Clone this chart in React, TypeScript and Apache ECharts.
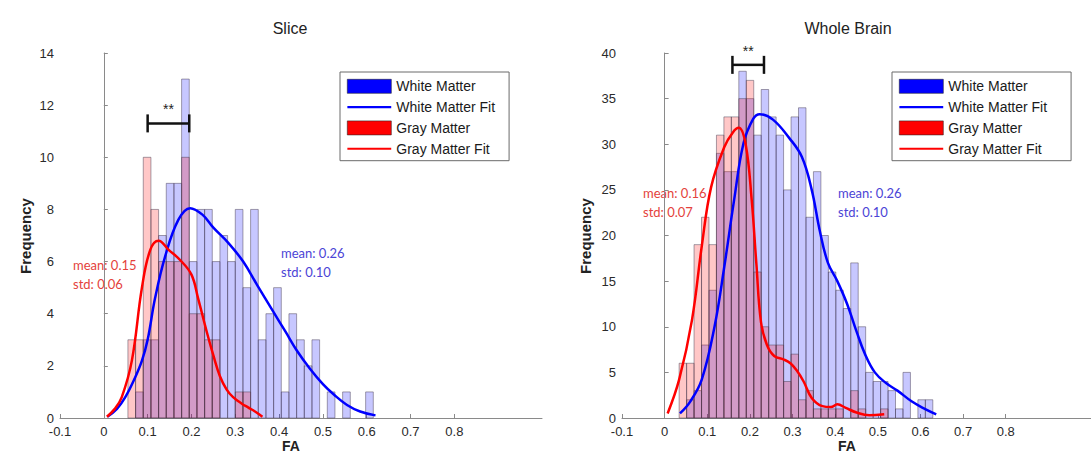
import React, { useEffect, useRef } from 'react';
import * as echarts from 'echarts';

// ---------- data ----------
const X_TICKS = [-0.1, 0, 0.1, 0.2, 0.3, 0.4, 0.5, 0.6, 0.7, 0.8];

// Slice panel
const SLICE_BIN_START = 0.055;
const SLICE_BIN_WIDTH = 0.0175;
const SLICE_WHITE = [0, 1, 3, 3, 7, 9, 9, 13, 6, 8, 8, 6, 7, 6, 8, 5, 8, 3, 4, 5, 1, 4, 3, 2, 3, 0, 1, 0, 1, 0, 0, 1];
const SLICE_GRAY = [3, 3, 10, 8, 6, 6, 6, 10, 4, 4, 3, 3, 0, 0, 1, 1];
const SLICE_WHITE_FIT = [
  [0.008, 0.05], [0.03, 0.35], [0.049, 0.8], [0.07, 1.5], [0.087, 2.2], [0.1, 3.0], [0.117, 4.6],
  [0.14, 6.2], [0.17, 7.6], [0.197, 8.05], [0.225, 7.8], [0.25, 7.3], [0.285, 6.7], [0.318, 6.0],
  [0.35, 5.1], [0.386, 4.1], [0.415, 3.3], [0.44, 2.6], [0.47, 1.9], [0.5, 1.3], [0.525, 0.9],
  [0.555, 0.5], [0.585, 0.25], [0.62, 0.1],
];
const SLICE_GRAY_FIT = [
  [0.007, 0.05], [0.025, 0.35], [0.041, 0.8], [0.064, 2.2], [0.087, 5.0], [0.106, 6.45], [0.125, 6.8],
  [0.148, 6.45], [0.174, 6.06], [0.2, 5.5], [0.215, 4.6], [0.235, 3.3], [0.25, 2.4], [0.265, 1.6],
  [0.28, 1.1], [0.295, 0.8], [0.315, 0.55], [0.33, 0.4], [0.345, 0.25], [0.362, 0.05],
];
const SLICE_SIG = [[0.1, 0.195, 11.3]];

// Whole brain panel
const BRAIN_BIN_START = 0.034;
const BRAIN_BIN_WIDTH = 0.0175;
const BRAIN_WHITE = [0, 2, 3, 8, 14, 29, 27, 27, 38, 35, 31, 36, 33, 31, 25, 33, 34, 22, 27, 20, 16, 14, 12, 17, 10, 5, 4, 4, 3, 1, 5, 0, 2, 2];
const BRAIN_GRAY = [6, 6, 19, 22, 19, 31, 33, 33, 35, 37, 16, 10, 8, 8, 4, 7, 2, 3, 1, 1, 1, 1, 0, 3, 1, 0, 0, 1];
const BRAIN_WHITE_FIT = [
  [0.036, 0.5], [0.06, 1.8], [0.087, 4.2], [0.117, 10], [0.14, 16.6], [0.163, 23.9], [0.185, 30.1],
  [0.208, 32.8], [0.223, 33.3], [0.254, 32.7], [0.292, 30.7], [0.322, 28.6], [0.345, 25], [0.364, 20.5],
  [0.383, 17], [0.405, 15], [0.428, 12.5], [0.45, 9.5], [0.47, 7], [0.493, 5], [0.52, 3.8],
  [0.546, 3.0], [0.58, 1.8], [0.61, 1.0], [0.637, 0.4],
];
const BRAIN_GRAY_FIT = [
  [0.007, 0.5], [0.034, 4.2], [0.064, 10.7], [0.087, 18.8], [0.109, 25.3], [0.14, 29.7], [0.16, 31.3],
  [0.174, 31.8], [0.19, 30], [0.204, 24], [0.215, 17], [0.226, 10.5], [0.24, 8], [0.257, 6.8],
  [0.28, 6.4], [0.295, 6], [0.31, 5.2], [0.326, 4.0], [0.345, 2.2], [0.37, 1.3], [0.39, 1.2],
  [0.405, 1.5], [0.425, 1.1], [0.45, 0.6], [0.48, 0.3], [0.515, 0.4],
];
const BRAIN_SIG = [[0.159, 0.233, 38.7]];

const LEGEND_NAMES = ['White Matter', 'White Matter Fit', 'Gray Matter', 'Gray Matter Fit'];

// ---------- styles ----------
const FONT = 'Liberation Sans, Arial, sans-serif';
const BLUE = '#0000ff';
const RED = '#ff0000';
const BLUE_FILL = 'rgba(0,0,255,0.22)';
const RED_FILL = 'rgba(255,0,0,0.22)';
const AXIS_COLOR = '#8a8a8a';
const LINE_ICON = 'path://M0,0L0.05,0L0.05,0.05L0,0.05Z M0,6L44,6L44,8.2L0,8.2Z M43.95,14L44,14L44,14.05L43.95,14.05Z';

function bins(start: number, width: number, counts: number[]) {
  return counts.map((c, i) => [start + i * width, start + (i + 1) * width, c]);
}

function barRenderer(fill: string) {
  return (_params: any, api: any) => {
    const v = api.value(2);
    if (!v) return null;
    const a = api.coord([api.value(0), v]);
    const b = api.coord([api.value(1), 0]);
    return {
      type: 'rect',
      shape: { x: a[0], y: a[1], width: b[0] - a[0], height: b[1] - a[1] },
      style: { fill, stroke: 'rgba(70,60,80,0.6)', lineWidth: 0.8 },
    };
  };
}

function sigRenderer(_params: any, api: any) {
  const a = api.coord([api.value(0), api.value(2)]);
  const b = api.coord([api.value(1), api.value(2)]);
  const h = 9;
  const ls = { stroke: '#111', lineWidth: 2.5 };
  return {
    type: 'group',
    children: [
      { type: 'line', shape: { x1: a[0], y1: a[1], x2: b[0], y2: b[1] }, style: ls },
      { type: 'line', shape: { x1: a[0], y1: a[1] - h, x2: a[0], y2: a[1] + h }, style: ls },
      { type: 'line', shape: { x1: b[0], y1: b[1] - h, x2: b[0], y2: b[1] + h }, style: ls },
      {
        type: 'text',
        x: (a[0] + b[0]) / 2,
        y: a[1] - 7,
        style: { text: '**', textAlign: 'center', textVerticalAlign: 'bottom', font: `14px ${FONT}`, fill: '#222' },
      },
    ],
  };
}

function xAxis(gridIndex: number) {
  return {
    type: 'value',
    gridIndex,
    min: -0.1,
    max: 1.0,
    interval: 0.1,
    axisLine: { show: true, onZero: false, lineStyle: { color: AXIS_COLOR, width: 1 } },
    axisTick: { show: true, inside: true, length: 4, customValues: X_TICKS, lineStyle: { color: AXIS_COLOR } },
    axisLabel: {
      customValues: X_TICKS,
      formatter: (v: number) => (v > 0.85 ? '' : String(Math.round(v * 10) / 10)),
      color: '#2a2a2a',
      fontSize: 13,
      fontFamily: FONT,
      margin: 7,
    },
    splitLine: { show: false },
  };
}

function yAxis(gridIndex: number, max: number, interval: number) {
  return {
    type: 'value',
    gridIndex,
    min: 0,
    max,
    interval,
    axisLine: { show: true, lineStyle: { color: AXIS_COLOR, width: 1 } },
    axisTick: { show: true, inside: true, length: 4, lineStyle: { color: AXIS_COLOR } },
    axisLabel: { color: '#2a2a2a', fontSize: 13, fontFamily: FONT, margin: 6 },
    splitLine: { show: false },
  };
}

function panelSeries(
  idx: number,
  start: number,
  width: number,
  white: number[],
  gray: number[],
  whiteFit: number[][],
  grayFit: number[][],
  sig: number[][],
) {
  return [
    {
      type: 'custom',
      name: 'White Matter',
      xAxisIndex: idx,
      yAxisIndex: idx,
      z: 2,
      itemStyle: { color: BLUE },
      renderItem: barRenderer(BLUE_FILL),
      encode: { x: [0, 1], y: 2 },
      data: bins(start, width, white),
    },
    {
      type: 'custom',
      name: 'Gray Matter',
      xAxisIndex: idx,
      yAxisIndex: idx,
      z: 2,
      itemStyle: { color: RED },
      renderItem: barRenderer(RED_FILL),
      encode: { x: [0, 1], y: 2 },
      data: bins(start, width, gray),
    },
    {
      type: 'line',
      name: 'White Matter Fit',
      xAxisIndex: idx,
      yAxisIndex: idx,
      z: 4,
      smooth: 0.4,
      symbol: 'none',
      showSymbol: false,
      lineStyle: { color: BLUE, width: 2.5 },
      itemStyle: { color: BLUE },
      data: whiteFit,
    },
    {
      type: 'line',
      name: 'Gray Matter Fit',
      xAxisIndex: idx,
      yAxisIndex: idx,
      z: 4,
      smooth: 0.4,
      symbol: 'none',
      showSymbol: false,
      lineStyle: { color: RED, width: 2.5 },
      itemStyle: { color: RED },
      data: grayFit,
    },
    {
      type: 'custom',
      name: 'significance',
      xAxisIndex: idx,
      yAxisIndex: idx,
      z: 5,
      renderItem: sigRenderer,
      encode: { x: [0, 1], y: 2 },
      data: sig,
    },
  ];
}

function legend(left: number, rightPad: number) {
  return {
    orient: 'vertical',
    left,
    top: 72,
    padding: [7, rightPad, 5, 7],
    itemGap: 6.5,
    itemWidth: 44,
    itemHeight: 14,
    borderColor: '#6a6a6a',
    borderWidth: 1,
    backgroundColor: '#fff',
    selectedMode: false,
    textStyle: { fontSize: 14, fontFamily: FONT, color: '#1a1a1a' },
    data: [
      { name: LEGEND_NAMES[0], icon: 'rect', itemStyle: { color: BLUE, opacity: 1, borderColor: '#223', borderWidth: 0.6 } },
      { name: LEGEND_NAMES[1], icon: LINE_ICON, itemStyle: { color: BLUE, opacity: 1, borderWidth: 0 }, lineStyle: { width: 0 } },
      { name: LEGEND_NAMES[2], icon: 'rect', itemStyle: { color: RED, opacity: 1, borderColor: '#322', borderWidth: 0.6 } },
      { name: LEGEND_NAMES[3], icon: LINE_ICON, itemStyle: { color: RED, opacity: 1, borderWidth: 0 }, lineStyle: { width: 0 } },
    ],
  };
}

function txt(x: number, y: number, text: string, font: string, fill: string, extra: any = {}) {
  return {
    type: 'text',
    x,
    y,
    silent: true,
    style: { text, font, fill, textAlign: 'left', textVerticalAlign: 'middle', ...(extra.style || {}) },
    ...(extra.el || {}),
  };
}

export default function App() {
  const ref = useRef<HTMLDivElement>(null);

  useEffect(() => {
    if (!ref.current) return;
    const chart = echarts.init(ref.current, undefined, { renderer: 'svg' });
    const noteFont = '13px Lato, "Open Sans", sans-serif';
    const redText = '#e4423c';
    const blueText = '#4b44d6';
    chart.setOption({
      animation: false,
      backgroundColor: '#ffffff',
      grid: [
        { left: 60, top: 53, width: 482, height: 365 },
        { left: 622, top: 53, width: 483, height: 365 },
      ],
      xAxis: [xAxis(0), xAxis(1)],
      yAxis: [yAxis(0, 14, 2), yAxis(1, 40, 5)],
      legend: [legend(340, 14), legend(892, 24)],
      series: [
        ...panelSeries(0, SLICE_BIN_START, SLICE_BIN_WIDTH, SLICE_WHITE, SLICE_GRAY, SLICE_WHITE_FIT, SLICE_GRAY_FIT, SLICE_SIG),
        ...panelSeries(1, BRAIN_BIN_START, BRAIN_BIN_WIDTH, BRAIN_WHITE, BRAIN_GRAY, BRAIN_WHITE_FIT, BRAIN_GRAY_FIT, BRAIN_SIG),
      ],
      graphic: [
        txt(290, 28, 'Slice', `16px ${FONT}`, '#222', { style: { textAlign: 'center' } }),
        txt(848, 28, 'Whole Brain', `16px ${FONT}`, '#222', { style: { textAlign: 'center' } }),
        txt(291, 446, 'FA', `bold 14px ${FONT}`, '#222', { style: { textAlign: 'center' } }),
        txt(847, 446, 'FA', `bold 14px ${FONT}`, '#222', { style: { textAlign: 'center' } }),
        txt(25, 236, 'Frequency', `bold 15px ${FONT}`, '#222', { style: { textAlign: 'center' }, el: { rotation: Math.PI / 2 } }),
        txt(585, 236, 'Frequency', `bold 15px ${FONT}`, '#222', { style: { textAlign: 'center' }, el: { rotation: Math.PI / 2 } }),
        txt(73, 265, 'mean: 0.15', noteFont, redText),
        txt(73, 284, 'std: 0.06', noteFont, redText),
        txt(281, 253, 'mean: 0.26', noteFont, blueText),
        txt(281, 272, 'std: 0.10', noteFont, blueText),
        txt(643, 193, 'mean: 0.16', noteFont, redText),
        txt(643, 212, 'std: 0.07', noteFont, redText),
        txt(838, 193, 'mean: 0.26', noteFont, blueText),
        txt(838, 212, 'std: 0.10', noteFont, blueText),
      ],
    });
    return () => chart.dispose();
  }, []);

  return (
    <div
      ref={ref}
      style={{ position: 'fixed', left: 0, top: 0, width: 1091, height: 464, background: '#fff' }}
    />
  );
}
